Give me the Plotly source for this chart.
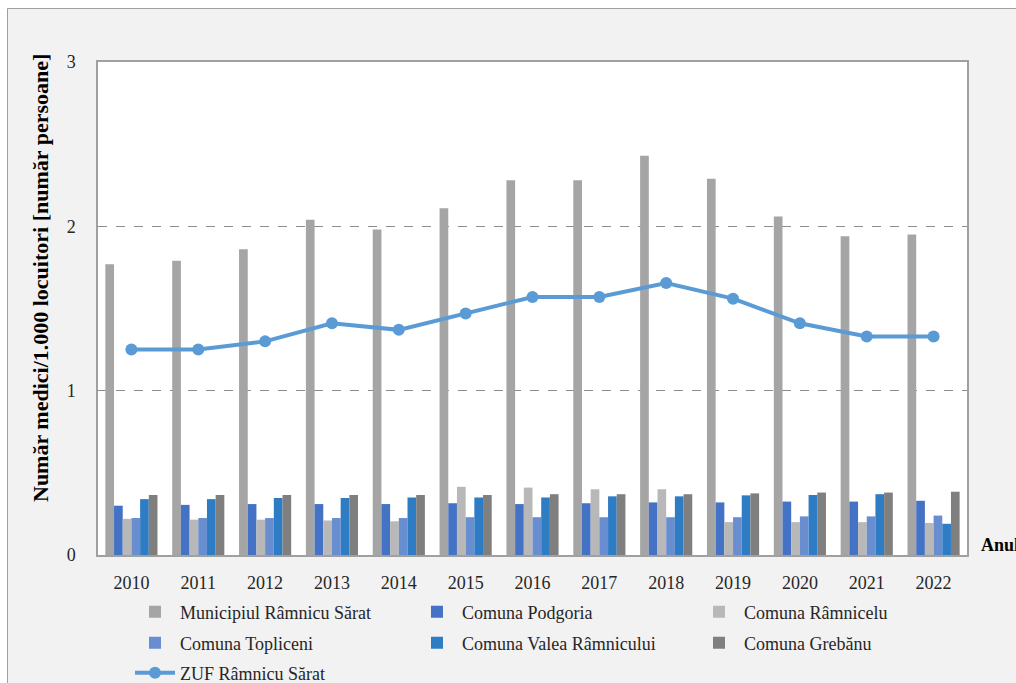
import plotly.graph_objects as go

# ==== DATA ====
years = ["2010", "2011", "2012", "2013", "2014", "2015", "2016",
         "2017", "2018", "2019", "2020", "2021", "2022"]

municipiul = [1.77, 1.79, 1.86, 2.04, 1.98, 2.11, 2.28, 2.28, 2.43, 2.29, 2.06, 1.94, 1.95]
podgoria = [0.30, 0.305, 0.31, 0.31, 0.31, 0.315, 0.31, 0.315, 0.32, 0.32, 0.325, 0.325, 0.33]
ramnicelu = [0.22, 0.215, 0.215, 0.21, 0.205, 0.415, 0.41, 0.40, 0.40, 0.20, 0.20, 0.20, 0.195]
topliceni = [0.225, 0.225, 0.225, 0.225, 0.225, 0.23, 0.23, 0.23, 0.23, 0.23, 0.235, 0.235, 0.24]
valea = [0.34, 0.34, 0.347, 0.347, 0.35, 0.35, 0.35, 0.357, 0.357, 0.363, 0.365, 0.37, 0.19]
grebanu = [0.365, 0.365, 0.365, 0.365, 0.365, 0.365, 0.37, 0.37, 0.37, 0.375, 0.38, 0.38, 0.385]
zuf = [1.25, 1.25, 1.30, 1.41, 1.37, 1.47, 1.57, 1.57, 1.655, 1.56, 1.41, 1.33, 1.33]

# name, values, colour, legend row
bar_series = [
    ("Municipiul Râmnicu Sărat", municipiul, "#A5A5A5", "legend"),
    ("Comuna Podgoria", podgoria, "#4472C4", "legend"),
    ("Comuna Râmnicelu", ramnicelu, "#B8B8B8", "legend"),
    ("Comuna Topliceni", topliceni, "#698ED0", "legend2"),
    ("Comuna Valea Râmnicului", valea, "#2E7CC4", "legend2"),
    ("Comuna Grebănu", grebanu, "#7F7F7F", "legend2"),
]

FONT = "Liberation Serif, DejaVu Serif, serif"

fig = go.Figure()

for name, vals, color, leg in bar_series:
    fig.add_trace(go.Bar(x=years, y=vals, name=name, marker_color=color,
                         marker_line_width=0, legend=leg))

fig.add_trace(go.Scatter(
    x=years, y=zuf, name="ZUF Râmnicu Sărat", mode="lines+markers",
    line=dict(color="#5B9BD5", width=4),
    marker=dict(color="#5B9BD5", size=12),
    legend="legend3",
))

# ---- frame / background (pixel helpers) ----
L, R, T, B = 98, 49, 62, 128
W, H = 1016, 683
pw, ph = W - L - R, H - T - B
def px_x(v):
    return (v - L) / pw
def px_y(v):
    return (H - B - v) / ph

shapes = [
    dict(type="rect", xref="paper", yref="paper", x0=px_x(-5), x1=px_x(7),
         y0=px_y(H + 5), y1=px_y(-5), fillcolor="white", line_width=0, layer="below"),
    dict(type="rect", xref="paper", yref="paper", x0=px_x(-5), x1=px_x(W + 5),
         y0=px_y(8), y1=px_y(-5), fillcolor="white", line_width=0, layer="below"),
    dict(type="rect", xref="paper", yref="paper", x0=px_x(7.5), x1=px_x(W + 5),
         y0=px_y(H + 5), y1=px_y(8.5), line=dict(color="#A0A0A0", width=1),
         fillcolor="rgba(0,0,0,0)"),
]

leg_common = dict(
    orientation="h", x=px_x(130), xanchor="left", yanchor="middle",
    entrywidth=227, entrywidthmode="pixels", traceorder="normal",
    font=dict(family=FONT, size=18, color="#262626"),
    bgcolor="rgba(0,0,0,0)", itemwidth=40,
)

fig.update_layout(
    width=W, height=H,
    margin=dict(l=L, r=R, t=T, b=B, autoexpand=False),
    paper_bgcolor="#F2F2F2",
    plot_bgcolor="white",
    barmode="group",
    bargap=0.22,
    bargroupgap=0,
    font=dict(family=FONT, color="#404040", size=18),
    shapes=shapes,
    showlegend=True,
    legend=dict(leg_common, y=px_y(612)),
    legend2=dict(leg_common, y=px_y(643)),
    legend3=dict(leg_common, y=px_y(673)),
    annotations=[
        dict(text="<b>Anul</b>", xref="paper", yref="paper", x=px_x(979), y=px_y(545),
             xanchor="left", yanchor="middle", showarrow=False,
             font=dict(family=FONT, size=18, color="black")),
        dict(text="<b>Număr medici/1.000 locuitori [număr persoane]</b>",
             xref="paper", yref="paper", x=px_x(40), y=px_y(278),
             xanchor="center", yanchor="middle", textangle=-90, showarrow=False,
             font=dict(family=FONT, size=22, color="black")),
    ],
)

fig.update_xaxes(
    range=[-0.5, len(years) - 0.5],
    showline=True, linecolor="#A0A0A0", linewidth=1.5, mirror=True,
    showgrid=False, tickfont=dict(family=FONT, size=18, color="#262626"),
    ticks="", ticklabelstandoff=11,
)
fig.update_yaxes(
    range=[0, 3], dtick=1, showline=True, linecolor="#A0A0A0", linewidth=1.5, mirror=True,
    showgrid=True, gridcolor="#8C8C8C", griddash="dash", gridwidth=1,
    zeroline=False, ticks="", ticklabelstandoff=17,
    tickfont=dict(family=FONT, size=18, color="#262626"),
)

fig.write_html("out.html", config={"displayModeBar": False},
               post_script="document.body.style.margin='0';")
